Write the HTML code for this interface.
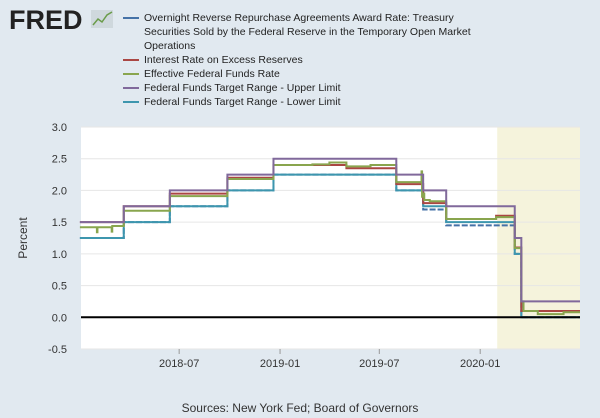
<!DOCTYPE html>
<html><head><meta charset="utf-8"><style>
body{margin:0;width:600px;height:418px;background:#e1e9f0;font-family:"Liberation Sans",sans-serif;overflow:hidden;position:relative}
.lg{position:absolute;left:144px;font-size:10.5px;color:#222;line-height:14px}
.mk{position:absolute;left:123px;width:16px;height:2px}
</style></head><body>
<div style="position:absolute;left:9px;top:5px;font-weight:bold;font-size:27px;letter-spacing:0px;color:#222">FRED</div>
<svg style="position:absolute;left:91px;top:10px" width="22" height="18"><rect width="22" height="18" fill="#cfd8dd"/><polyline points="2,15 7,9 11,12 16,5 21,2" fill="none" stroke="#6a9c4a" stroke-width="1.5"/></svg>
<div>
<div class="mk" style="top:17px;background:#4572a7"></div>
<div class="lg" style="top:11px;width:340px">Overnight Reverse Repurchase Agreements Award Rate: Treasury Securities Sold by the Federal Reserve in the Temporary Open Market Operations</div>
<div class="mk" style="top:59px;background:#aa4643"></div>
<div class="lg" style="top:53px">Interest Rate on Excess Reserves</div>
<div class="mk" style="top:73px;background:#89a54e"></div>
<div class="lg" style="top:67px">Effective Federal Funds Rate</div>
<div class="mk" style="top:87px;background:#80699b"></div>
<div class="lg" style="top:81px">Federal Funds Target Range - Upper Limit</div>
<div class="mk" style="top:101px;background:#3d96ae"></div>
<div class="lg" style="top:95px">Federal Funds Target Range - Lower Limit</div>
</div>
<svg id="c" width="600" height="418" style="position:absolute;left:0;top:0"></svg>
<div style="position:absolute;left:0;width:600px;top:401px;text-align:center;font-size:12px;color:#333">Sources: New York Fed; Board of Governors</div>
<script>
const yTicks=[3.0,2.5,2.0,1.5,1.0,0.5,0.0,-0.5];
const xTicks=["2018-07-01","2019-01-01","2019-07-01","2020-01-01"];
const xTickLabels=["2018-07","2019-01","2019-07","2020-01"];
const upperDates=["2018-01-01","2018-03-22","2018-06-14","2018-09-27","2018-12-20","2019-08-01","2019-09-19","2019-10-31","2020-03-04","2020-03-16"];
const upperVals=[1.5,1.75,2.0,2.25,2.5,2.25,2.0,1.75,1.25,0.25];
const lowerVals=[1.25,1.5,1.75,2.0,2.25,2.0,1.75,1.5,1.0,0.0];
const ioerDates=["2018-01-01","2018-03-22","2018-06-14","2018-09-27","2018-12-20","2019-05-02","2019-08-01","2019-09-19","2019-10-31","2020-01-30","2020-03-04","2020-03-16"];
const ioerVals=[1.5,1.75,1.95,2.2,2.4,2.35,2.1,1.8,1.55,1.6,1.1,0.1];
const effrDates=["2018-01-01","2018-02-01","2018-02-02","2018-02-28","2018-03-01","2018-03-22","2018-06-14","2018-09-27","2018-12-20","2019-03-01","2019-04-01","2019-05-02","2019-06-15","2019-08-01","2019-09-16","2019-09-17","2019-09-19","2019-09-21","2019-10-01","2019-10-31","2020-01-30","2020-03-04","2020-03-16","2020-03-20","2020-04-15","2020-06-01"];
const effrVals=[1.42,1.34,1.42,1.35,1.44,1.68,1.91,2.18,2.40,2.41,2.44,2.38,2.40,2.13,2.30,1.90,1.95,1.85,1.83,1.55,1.58,1.09,0.25,0.10,0.05,0.08];
const rrpDates=["2018-01-01","2018-03-22","2018-06-14","2018-09-27","2018-12-20","2019-08-01","2019-09-19","2019-10-31","2020-03-04","2020-03-16"];
const rrpVals=[1.25,1.5,1.75,2.0,2.25,2.0,1.7,1.45,1.0,0.0];
const L=81,R=580,T=127,B=349,d0=Date.parse("2018-01-03"),d1=Date.parse("2020-07-01");
const X=d=>L+(Date.parse(d)-d0)/(d1-d0)*(R-L);
const Y=v=>T+(3-v)/3.5*(B-T);
const s=document.getElementById('c'),NS="http://www.w3.org/2000/svg";
function mk(t,a,n){const e=document.createElementNS(NS,t);for(const k in a)e.setAttribute(k,a[k]);


s.appendChild(e);return e;}
mk('rect',{x:L,y:T,width:R-L,height:B-T,fill:'#fff'},'plot-area');
mk('rect',{x:X("2020-02-01"),y:T,width:R-X("2020-02-01"),height:B-T,fill:'#f5f3dc'},'recession-shade');
yTicks.forEach(v=>{mk('line',{x1:L,x2:R,y1:Y(v),y2:Y(v),stroke:'#e6e6e6'},'gridline');
const t=mk('text',{x:67,y:Y(v)+4,'text-anchor':'end','font-size':11,fill:'#333'},'y-tick-label');t.textContent=v.toFixed(1);});
xTicks.forEach((d,i)=>{mk('line',{x1:X(d),x2:X(d),y1:B,y2:B+5,stroke:'#999'},'x-tick');
const t=mk('text',{x:X(d),y:B+18,'text-anchor':'middle','font-size':11,fill:'#333'},'x-tick-label');t.textContent=xTickLabels[i];});
const yt=mk('text',{x:27,y:238,'text-anchor':'middle','font-size':12,fill:'#333',transform:'rotate(-90 27 238)'},'y-axis-title');yt.textContent='Percent';
function step(ds,vs,col,n,extra){let p='';ds.forEach((d,i)=>{const x=X(d),y=Y(vs[i]);p+=(i?`H${x}V${y}`:`M${x} ${y}`);});p+=`H${R}`;
mk('path',Object.assign({d:p,fill:'none',stroke:col,'stroke-width':2},extra||{}),n);}
step(rrpDates,rrpVals,'#4572a7','series-onrrp',{'stroke-dasharray':'6 2'});
step(upperDates,lowerVals,'#3d96ae','series-lower-limit');
step(ioerDates,ioerVals,'#aa4643','series-ioer');
step(effrDates,effrVals,'#89a54e','series-effr');
step(upperDates,upperVals,'#80699b','series-upper-limit');
mk('line',{x1:L,x2:R,y1:Y(0),y2:Y(0),stroke:'#000','stroke-width':2},'zero-line');
</script>
</body></html>
